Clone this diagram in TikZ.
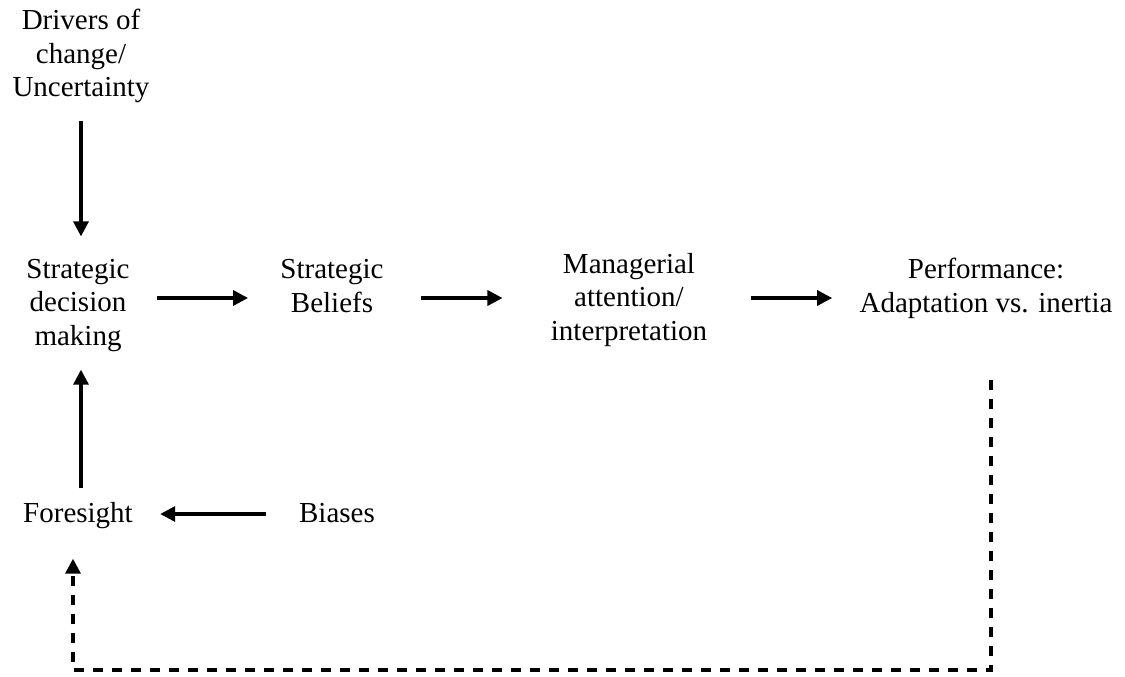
\documentclass[tikz,border=0pt]{standalone}
\usepackage{fontspec}
\setmainfont{Liberation Serif}
\usetikzlibrary{arrows.meta}
\begin{document}
\begin{tikzpicture}[x=0.5pt,y=-0.5pt,
  lbl/.style={align=center,anchor=base,inner sep=0pt,font=\fontsize{14.5}{16.75}\selectfont},
  arr/.style={line width=1.6pt,-{Triangle[length=7.5pt,width=7.5pt]}},
  fb/.style={line width=1.6pt,dash pattern=on 5pt off 4.5pt,-{Triangle[length=7.5pt,width=7.5pt]}}]
\useasboundingbox (0,0) rectangle (1125,676);
\node[lbl] (drv) at (81,96.7) {Drivers of\\change/\\Uncertainty};
\node[lbl] (sdm) at (78,345) {Strategic\\decision\\making};
\node[lbl] (bel) at (332,312) {Strategic\\Beliefs};
\node[lbl] (man) at (629,340) {Managerial\\attention/\\interpretation};
\node[lbl] (perf) at (986,312) {Performance:\\Adaptation vs. inertia};
\node[lbl] (fs) at (78,522) {Foresight};
\node[lbl] (bia) at (337,522) {Biases};
\coordinate (row) at (0,298);
\coordinate (brow) at (0,514);
\coordinate (col) at (81,0);
\coordinate (dcol) at (991,0);
\coordinate (lcol) at (73,0);
\coordinate (bot) at (0,670);
\draw[arr,shorten <=9pt,shorten >=11pt] (drv.south -| col) -- (sdm.north -| col);
\draw[arr,shorten <=13.75pt,shorten >=16pt] (sdm.east |- row) -- (bel.west |- row);
\draw[arr,shorten <=18.5pt,shorten >=24pt] (bel.east |- row) -- (man.west |- row);
\draw[arr,shorten <=21.5pt,shorten >=13.5pt] (man.east |- row) -- (perf.west |- row);
\draw[arr,shorten <=6.5pt,shorten >=9pt] (fs.north -| col) -- (sdm.south -| col);
\draw[arr,shorten <=16.5pt,shorten >=13.5pt] (bia.west |- brow) -- (fs.east |- brow);
\draw[fb,shorten <=30.5pt,shorten >=15pt] (perf.south -| dcol) -- (dcol |- bot) -- (lcol |- bot) -- (fs.south -| lcol);
\end{tikzpicture}
\end{document}
